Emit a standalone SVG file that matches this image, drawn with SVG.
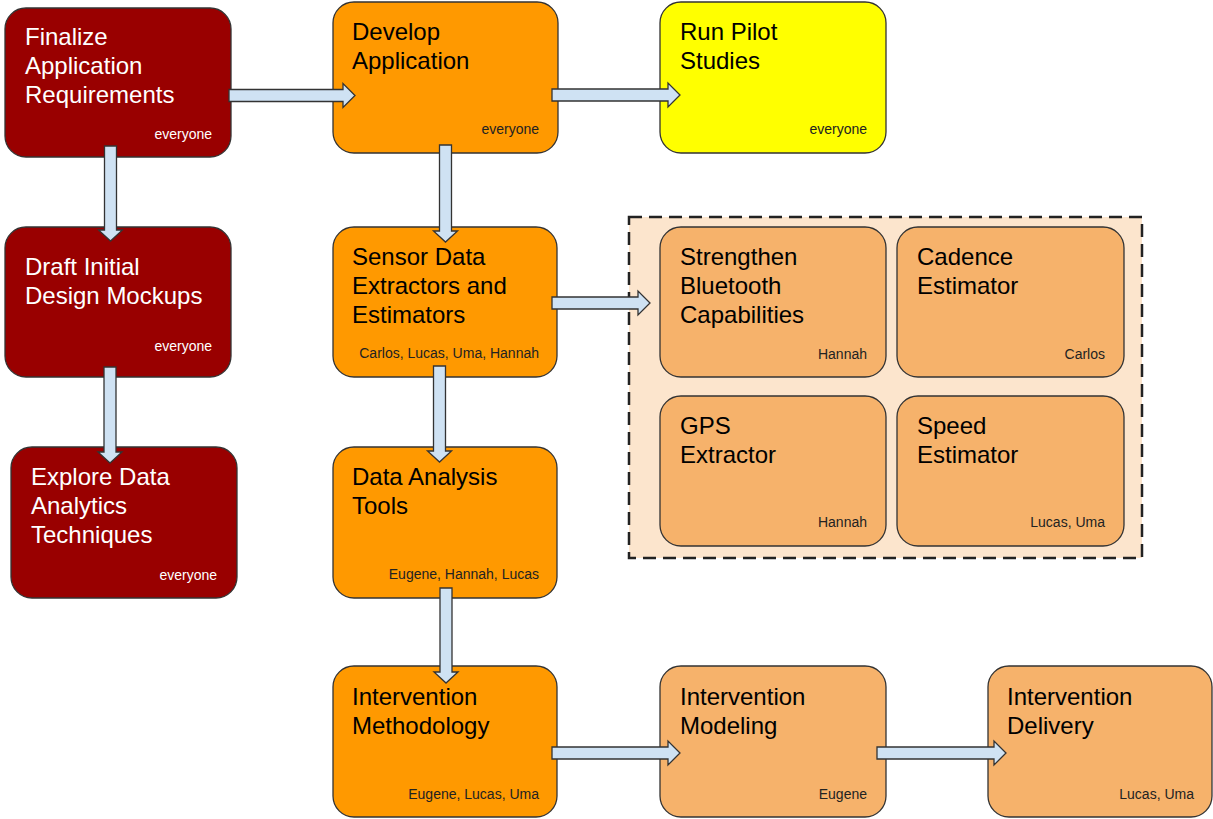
<svg xmlns="http://www.w3.org/2000/svg" width="1213" height="819" viewBox="0 0 1213 819">
<style>
.box{stroke:#333;stroke-width:1.3}
.red{fill:#990000}
.org{fill:#ff9900}
.yel{fill:#ffff00}
.lor{fill:#f6b26b}
.t{font-family:"Liberation Sans",Arial,sans-serif;font-size:24px;fill:#000}
.s{font-family:"Liberation Sans",Arial,sans-serif;font-size:14px;fill:#222;text-anchor:end}
.w{fill:#fff}
.arr{fill:#cfe2f3;stroke:#333;stroke-width:1.3;stroke-linejoin:miter}
</style>
<rect width="1213" height="819" fill="#fff"/>
<g id="group">
<rect x="629" y="217" width="513" height="341" fill="#fce5cd" stroke="#222" stroke-width="2.5" stroke-dasharray="13,7"/>
</g>
<g id="n-finalize">
<rect class="box red" x="5" y="8" width="226" height="149" rx="21"/>
<text class="t w" x="25" y="45">Finalize</text>
<text class="t w" x="25" y="74">Application</text>
<text class="t w" x="25" y="103">Requirements</text>
<text class="s w" x="212" y="139">everyone</text>
</g>
<g id="n-develop">
<rect class="box org" x="333" y="2" width="225" height="151" rx="21"/>
<text class="t" x="352" y="40">Develop</text>
<text class="t" x="352" y="69">Application</text>
<text class="s" x="539" y="134">everyone</text>
</g>
<g id="n-pilot">
<rect class="box yel" x="660" y="2" width="226" height="151" rx="21"/>
<text class="t" x="680" y="40">Run Pilot</text>
<text class="t" x="680" y="69">Studies</text>
<text class="s" x="867" y="134">everyone</text>
</g>
<g id="n-draft">
<rect class="box red" x="5" y="227" width="226" height="150" rx="21"/>
<text class="t w" x="25" y="275">Draft Initial</text>
<text class="t w" x="25" y="304">Design Mockups</text>
<text class="s w" x="212" y="351">everyone</text>
</g>
<g id="n-sensor">
<rect class="box org" x="333" y="227" width="224" height="150" rx="21"/>
<text class="t" x="352" y="265">Sensor Data</text>
<text class="t" x="352" y="294">Extractors and</text>
<text class="t" x="352" y="323">Estimators</text>
<text class="s" x="539" y="358">Carlos, Lucas, Uma, Hannah</text>
</g>
<g id="n-explore">
<rect class="box red" x="11" y="447" width="226" height="151" rx="21"/>
<text class="t w" x="31" y="485">Explore Data</text>
<text class="t w" x="31" y="514">Analytics</text>
<text class="t w" x="31" y="543">Techniques</text>
<text class="s w" x="217" y="580">everyone</text>
</g>
<g id="n-analysis">
<rect class="box org" x="333" y="447" width="224" height="151" rx="21"/>
<text class="t" x="352" y="485">Data Analysis</text>
<text class="t" x="352" y="514">Tools</text>
<text class="s" x="539" y="579">Eugene, Hannah, Lucas</text>
</g>
<g id="n-methodology">
<rect class="box org" x="333" y="666" width="224" height="151" rx="21"/>
<text class="t" x="352" y="705">Intervention</text>
<text class="t" x="352" y="734">Methodology</text>
<text class="s" x="539" y="799">Eugene, Lucas, Uma</text>
</g>
<g id="n-modeling">
<rect class="box lor" x="660" y="666" width="226" height="151" rx="21"/>
<text class="t" x="680" y="705">Intervention</text>
<text class="t" x="680" y="734">Modeling</text>
<text class="s" x="867" y="799">Eugene</text>
</g>
<g id="n-delivery">
<rect class="box lor" x="988" y="666" width="224" height="151" rx="21"/>
<text class="t" x="1007" y="705">Intervention</text>
<text class="t" x="1007" y="734">Delivery</text>
<text class="s" x="1194" y="799">Lucas, Uma</text>
</g>
<g id="n-bluetooth">
<rect class="box lor" x="660" y="227" width="226" height="150" rx="21"/>
<text class="t" x="680" y="265">Strengthen</text>
<text class="t" x="680" y="294">Bluetooth</text>
<text class="t" x="680" y="323">Capabilities</text>
<text class="s" x="867" y="359">Hannah</text>
</g>
<g id="n-cadence">
<rect class="box lor" x="897" y="227" width="227" height="150" rx="21"/>
<text class="t" x="917" y="265">Cadence</text>
<text class="t" x="917" y="294">Estimator</text>
<text class="s" x="1105" y="359">Carlos</text>
</g>
<g id="n-gps">
<rect class="box lor" x="660" y="396" width="226" height="150" rx="21"/>
<text class="t" x="680" y="434">GPS</text>
<text class="t" x="680" y="463">Extractor</text>
<text class="s" x="867" y="527">Hannah</text>
</g>
<g id="n-speed">
<rect class="box lor" x="897" y="396" width="227" height="150" rx="21"/>
<text class="t" x="917" y="434">Speed</text>
<text class="t" x="917" y="463">Estimator</text>
<text class="s" x="1105" y="527">Lucas, Uma</text>
</g>
<g id="connectors">
<path class="arr" d="M229,89.5 H343 V83.5 L355,95.5 L343,107.5 V101.5 H229 Z"/>
<path class="arr" d="M552,89 H668 V83 L680,95 L668,107 V101 H552 Z"/>
<path class="arr" d="M552,297 H638 V291 L650,303 L638,315 V309 H552 Z"/>
<path class="arr" d="M552,747 H668 V741 L680,753 L668,765 V759 H552 Z"/>
<path class="arr" d="M877,747 H994 V741 L1006,753 L994,765 V759 H877 Z"/>
<path class="arr" d="M104.5,146 V230 H98.5 L110.5,241 L122.5,230 H116.5 V146 Z"/>
<path class="arr" d="M104,367 V452 H98 L110,463 L122,452 H116 V367 Z"/>
<path class="arr" d="M439.5,145 V231 H433.5 L445.5,242 L457.5,231 H451.5 V145 Z"/>
<path class="arr" d="M433.5,366 V451 H427.5 L439.5,462 L451.5,451 H445.5 V366 Z"/>
<path class="arr" d="M440,588 V672 H434 L446,683 L458,672 H452 V588 Z"/>
</g>
</svg>
